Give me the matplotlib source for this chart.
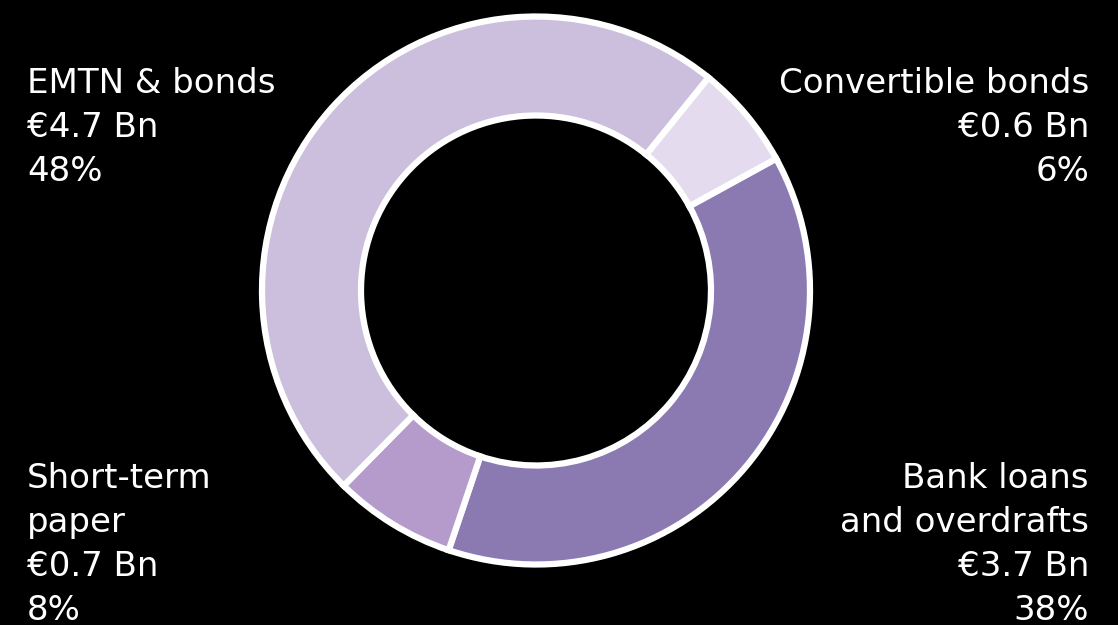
import matplotlib
matplotlib.use("Agg")
import matplotlib.pyplot as plt

# funding sources, clockwise from the top right
labels = ["Convertible bonds", "Bank loans\nand overdrafts", "Short-term\npaper", "EMTN & bonds"]
amounts = [0.6, 3.7, 0.7, 4.7]
shares = [6, 38, 8, 48]
colors = ["#E4DCEE", "#8B79B1", "#B49BCB", "#CCBEDD"]

fig = plt.figure(figsize=(11.18, 6.25), dpi=100, facecolor="black")
ax = fig.add_axes([0, 0, 1, 1])
ax.set_facecolor("black")

ax.pie(amounts, colors=colors, startangle=51, counterclock=False,
       radius=274, center=(536, 334.5),
       wedgeprops=dict(width=99, edgecolor="white", linewidth=4.5))
ax.set_xlim(0, 1118)
ax.set_ylim(0, 625)
ax.set_aspect("auto")
ax.axis("off")

def txt(i):
    return "%s\n€%.1f Bn\n%d%%" % (labels[i], amounts[i], shares[i])

style = dict(color="white", fontsize=24.5, family="DejaVu Sans", linespacing=1.42, va="top")
ax.text(27, 625 - 67, txt(3), ha="left", **style)
ax.text(1089, 625 - 67, txt(0), ha="right", multialignment="right", **style)
ax.text(27, 625 - 462, txt(2), ha="left", **style)
ax.text(1089, 625 - 462, txt(1), ha="right", multialignment="right", **style)

fig.savefig("out.png", dpi=100, facecolor="black")
